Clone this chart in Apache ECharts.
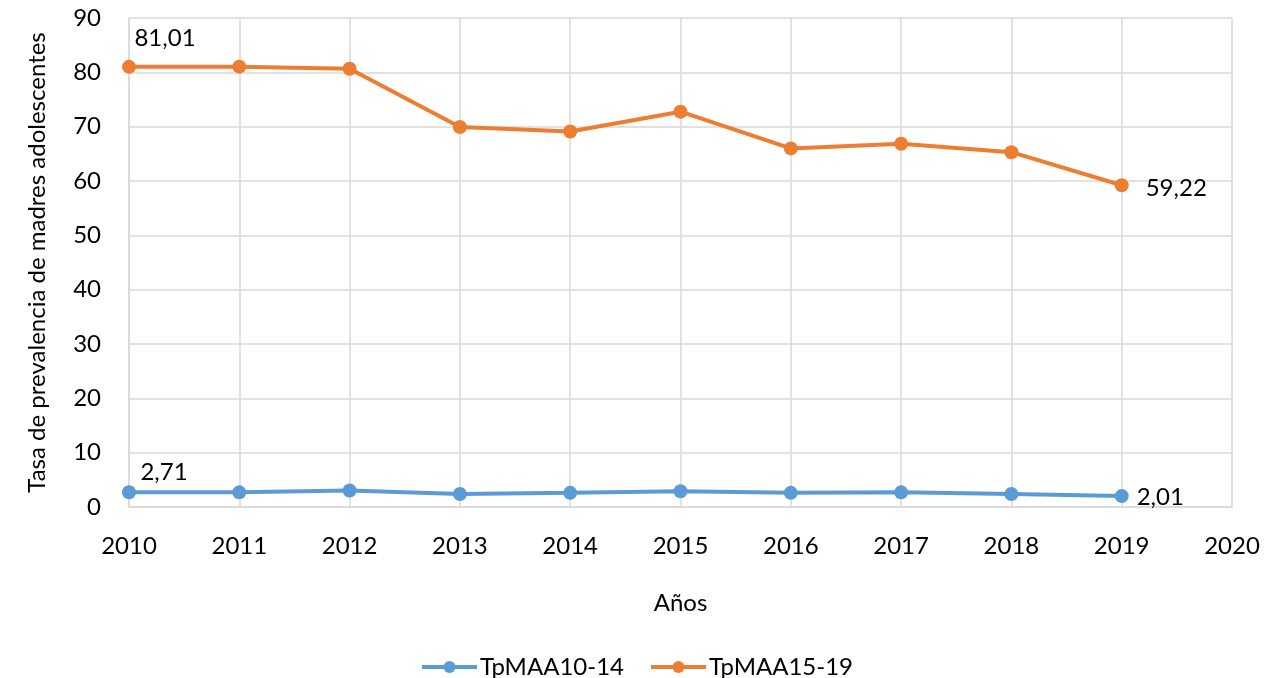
<!DOCTYPE html>
<html>
<head>
<meta charset="utf-8">
<script src="https://cdn.jsdelivr.net/npm/echarts@6/dist/echarts.min.js"></script>
<style>
html,body{margin:0;padding:0;background:#fff;}
#c{width:1273px;height:678px;}
</style>
</head>
<body>
<div id="c"></div>
<script>
var years = [2010, 2011, 2012, 2013, 2014, 2015, 2016, 2017, 2018, 2019];
var tp1014 = [2.71, 2.70, 3.05, 2.40, 2.60, 2.90, 2.60, 2.70, 2.40, 2.01];
var tp1519 = [81.01, 81.05, 80.65, 69.95, 69.10, 72.75, 66.00, 66.85, 65.30, 59.22];
var seriesNames = ['TpMAA10-14', 'TpMAA15-19'];
var xTitle = 'Años';
var yTitle = 'Tasa de prevalencia de madres adolescentes';

var FONT = 'Lato';
var FS = 24;
function fmt(v){ return v.toFixed(2).replace('.', ','); }

function build(vals, firstLabel, lastLabel){
  return years.map(function(y, i){
    var item = { value: [y, vals[i]] };
    if (i === 0) item.label = firstLabel;
    if (i === years.length - 1) item.label = lastLabel;
    return item;
  });
}
var labelBase = { show: true, color: '#000', fontSize: FS, fontFamily: FONT,
  formatter: function(p){ return fmt(p.value[1]); } };

var chart = echarts.init(document.getElementById('c'), null, {renderer: 'canvas'});
chart.setOption({
  animation: false,
  backgroundColor: '#fff',
  grid: { left: 129, right: 41, top: 18, bottom: 171, containLabel: false },
  legend: {
    top: 650, left: 'center',
    itemWidth: 55, itemHeight: 15, itemGap: 25,
    lineStyle: { width: 4 },
    textStyle: { fontSize: FS, fontFamily: FONT, color: '#000', padding: [0, 0, 0, -2] },
    data: seriesNames
  },
  xAxis: {
    type: 'value', min: 2010, max: 2020, interval: 1,
    name: xTitle, nameLocation: 'middle', nameGap: 84,
    nameTextStyle: { fontSize: FS, fontFamily: FONT, color: '#000' },
    axisLine: { show: true, lineStyle: { color: '#d9d9d9', width: 1.5 } },
    axisTick: { show: false },
    axisLabel: { fontSize: FS, fontFamily: FONT, color: '#000', margin: 27, formatter: function(v){ return String(v); } },
    splitLine: { show: true, lineStyle: { color: '#d9d9d9', width: 1.5 } }
  },
  yAxis: {
    type: 'value', min: 0, max: 90, interval: 10,
    name: yTitle, nameLocation: 'middle', nameGap: 80, nameRotate: 90,
    nameTextStyle: { fontSize: FS, fontFamily: FONT, color: '#000' },
    axisLine: { show: true, lineStyle: { color: '#d9d9d9', width: 1.5 } },
    axisTick: { show: false },
    axisLabel: { fontSize: FS, fontFamily: FONT, color: '#000', margin: 28 },
    splitLine: { show: true, lineStyle: { color: '#d9d9d9', width: 1.5 } }
  },
  series: [
    {
      name: seriesNames[0], type: 'line',
      color: '#5b9bd5',
      symbol: 'circle', symbolSize: 14,
      lineStyle: { width: 4, color: '#5b9bd5' },
      itemStyle: { color: '#5b9bd5' },
      label: { show: false },
      data: build(tp1014,
        Object.assign({}, labelBase, { position: 'top', offset: [35, 4] }),
        Object.assign({}, labelBase, { position: 'right', offset: [3, 1] }))
    },
    {
      name: seriesNames[1], type: 'line',
      color: '#ed7d31',
      symbol: 'circle', symbolSize: 14,
      lineStyle: { width: 4, color: '#ed7d31' },
      itemStyle: { color: '#ed7d31' },
      label: { show: false },
      data: build(tp1519,
        Object.assign({}, labelBase, { position: 'top', offset: [36, -5] }),
        Object.assign({}, labelBase, { position: 'right', offset: [12, 3] }))
    }
  ]
});
</script>
</body>
</html>
